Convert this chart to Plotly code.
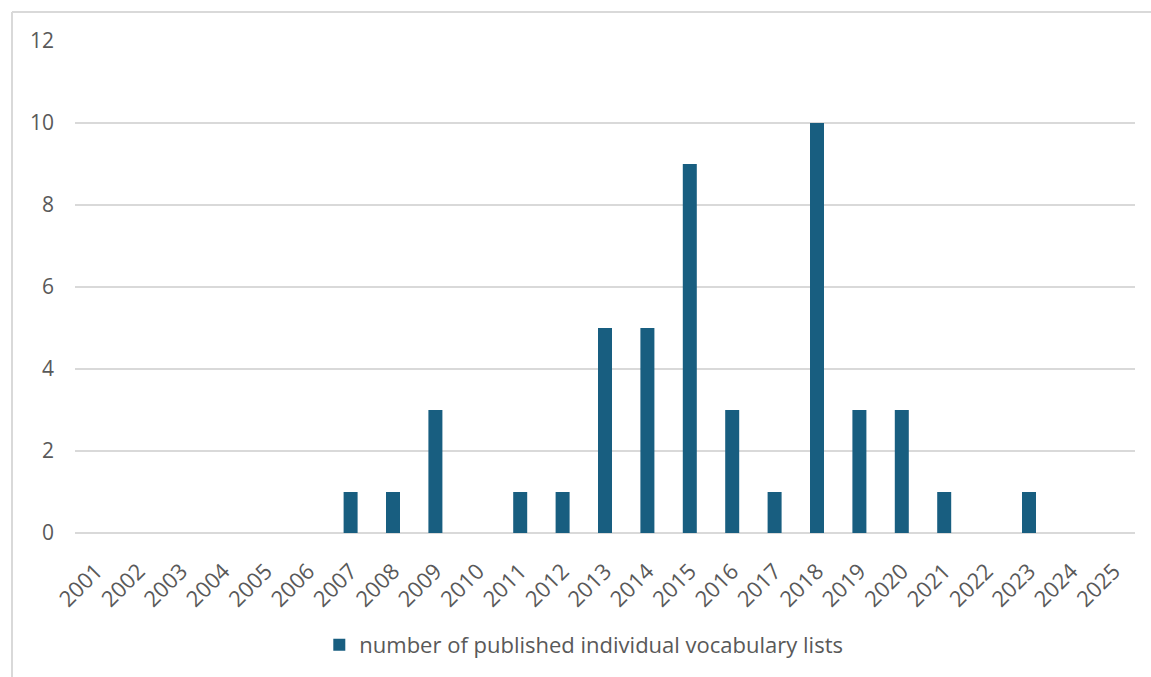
import plotly.graph_objects as go

years = [str(y) for y in range(2001, 2026)]
counts = [0, 0, 0, 0, 0, 0, 1, 1, 3, 0, 1, 1, 5, 5, 9, 3, 1, 10, 3, 3, 1, 0, 1, 0, 0]
series_name = "number of published individual vocabulary lists"

W, H = 1151, 677
L, R, T, B = 75, 16, 41, 143
pw, ph = W - L - R, H - T - B

def px_x(x):
    return (x - L) / pw

def px_y(y):
    return 1 - (y - T) / ph

fig = go.Figure(
    go.Bar(
        x=years,
        y=counts,
        name=series_name,
        marker=dict(color="#185e80", line=dict(width=0)),
    )
)

frame = "#d9d9d9"
fig.add_shape(type="line", xref="paper", yref="paper",
              x0=px_x(12), x1=px_x(12), y0=px_y(12), y1=px_y(700),
              line=dict(color=frame, width=2))
fig.add_shape(type="line", xref="paper", yref="paper",
              x0=px_x(12), x1=px_x(1160), y0=px_y(12), y1=px_y(12),
              line=dict(color=frame, width=2))

font_family = "Open Sans, Arial, sans-serif"

fig.update_layout(
    width=W, height=H,
    margin=dict(l=L, r=R, t=T, b=B),
    paper_bgcolor="white", plot_bgcolor="white",
    bargap=0.67,
    showlegend=True,
    legend=dict(orientation="h", x=0.48, xanchor="center", y=px_y(645), yanchor="middle",
                font=dict(family=font_family, size=22, color="#595959"),
                itemwidth=30),
    xaxis=dict(type="category", tickangle=-45,
               tickfont=dict(family=font_family, size=22, color="#595959"),
               showgrid=False, showline=False, ticks="", ticklabelstandoff=20),
    yaxis=dict(range=[0, 12], dtick=2,
               tickfont=dict(family=font_family, size=21, color="#595959"),
               showgrid=True, gridcolor="#d9d9d9", gridwidth=1.5, zeroline=True,
               zerolinecolor="#d9d9d9", zerolinewidth=1.5, showline=False, ticks="",
               ticklabelstandoff=20),
)

fig.write_html("out.html")
